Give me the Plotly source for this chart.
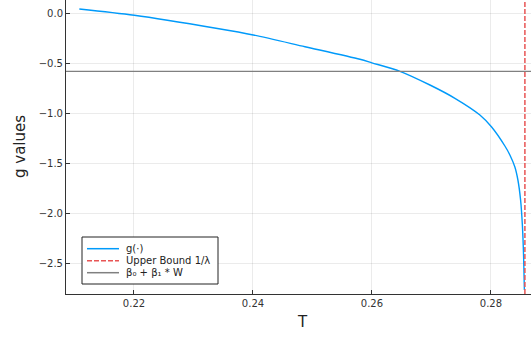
import plotly.graph_objects as go

# Data
T_values = [0.21081, 0.22005, 0.23378, 0.24005, 0.24874, 0.25798, 0.26000,
            0.26471, 0.26975, 0.27395, 0.27815, 0.28012, 0.28235, 0.28319,
            0.28403, 0.28454, 0.28499, 0.28529, 0.28549, 0.28563]
g_values = [0.043, -0.020, -0.150, -0.217, -0.334, -0.460, -0.495,
            -0.580, -0.717, -0.850, -1.017, -1.137, -1.327, -1.417,
            -1.537, -1.667, -1.867, -2.117, -2.417, -2.767]
lam = 3.5
upper_bound = 1.0 / lam
beta_line = -0.58

x_range = [0.20857, 0.28674]
y_range = [-2.807, 0.133]
x_ticks = [0.22, 0.24, 0.26, 0.28]
y_ticks = [0.0, -0.5, -1.0, -1.5, -2.0, -2.5]

legend_names = ["g(·)", "Upper Bound 1/λ", "β₀ + β₁ * W"]
colors = ["#009AFA", "rgb(232,85,85)", "rgb(128,128,128)"]
dashes = ["solid", "5px,2px", "solid"]

FONT = "DejaVu Sans"

fig = go.Figure()
fig.add_trace(go.Scatter(x=T_values, y=g_values, mode="lines", name=legend_names[0],
                         line=dict(color=colors[0], width=1.4, shape="spline", smoothing=0.8)))
fig.add_trace(go.Scatter(x=[upper_bound, upper_bound], y=y_range, mode="lines",
                         name=legend_names[1],
                         line=dict(color=colors[1], width=1.5, dash=dashes[1])))
fig.add_trace(go.Scatter(x=x_range, y=[beta_line, beta_line], mode="lines",
                         name=legend_names[2],
                         line=dict(color=colors[2], width=1.2)))

axis_common = dict(
    showline=True, linecolor="#333333", linewidth=1, mirror=False,
    showgrid=True, gridcolor="rgba(0,0,0,0.08)", gridwidth=1,
    zeroline=False, ticks="inside", ticklen=4, tickcolor="#333333",
    tickfont=dict(family=FONT, size=10, color="#333333"),
    automargin=False,
)
fig.update_xaxes(range=x_range, tickvals=x_ticks, tickformat=".2f", **axis_common)
fig.update_yaxes(range=y_range, tickvals=y_ticks, tickformat=".1f", **axis_common)

# Axis titles
fig.add_annotation(text="T", xref="paper", yref="paper", x=(302.7 - 66) / 465, y=(294 - 322) / 294,
                   xanchor="center", yanchor="middle", showarrow=False,
                   font=dict(family=FONT, size=15, color="#222222"))
fig.add_annotation(text="g values", xref="paper", yref="paper", x=(20 - 66) / 465, y=(294 - 147) / 294,
                   xanchor="center", yanchor="middle", showarrow=False, textangle=-90,
                   font=dict(family=FONT, size=15, color="#222222"))

# Custom compact legend (Plots.jl style)
def px_x(p):
    return (p - 66) / 465

def px_y(p):
    return (294 - p) / 294

fig.add_shape(type="rect", xref="paper", yref="paper",
              x0=px_x(82), x1=px_x(218), y0=px_y(284), y1=px_y(237),
              line=dict(color="#222222", width=1), fillcolor="white", layer="above")
entry_rows = [248.7, 260.7, 272.7]
for name, col, dsh, row in zip(legend_names, colors, dashes, entry_rows):
    fig.add_shape(type="line", xref="paper", yref="paper",
                  x0=px_x(87), x1=px_x(119), y0=px_y(row), y1=px_y(row),
                  line=dict(color=col, width=1.5, dash=dsh), layer="above")
    fig.add_annotation(text=name, xref="paper", yref="paper", x=px_x(124), y=px_y(row),
                       xanchor="left", yanchor="middle", showarrow=False,
                       font=dict(family=FONT, size=10, color="#222222"))

fig.update_layout(
    width=531, height=337,
    margin=dict(l=66, r=0, t=0, b=43),
    plot_bgcolor="white", paper_bgcolor="white",
    font=dict(family=FONT),
    showlegend=False,
)

fig.write_html("out.html",
               config={"displayModeBar": False, "staticPlot": True},
               post_script="document.body.style.margin='0';document.body.style.padding='0';document.body.style.overflow='hidden';")
